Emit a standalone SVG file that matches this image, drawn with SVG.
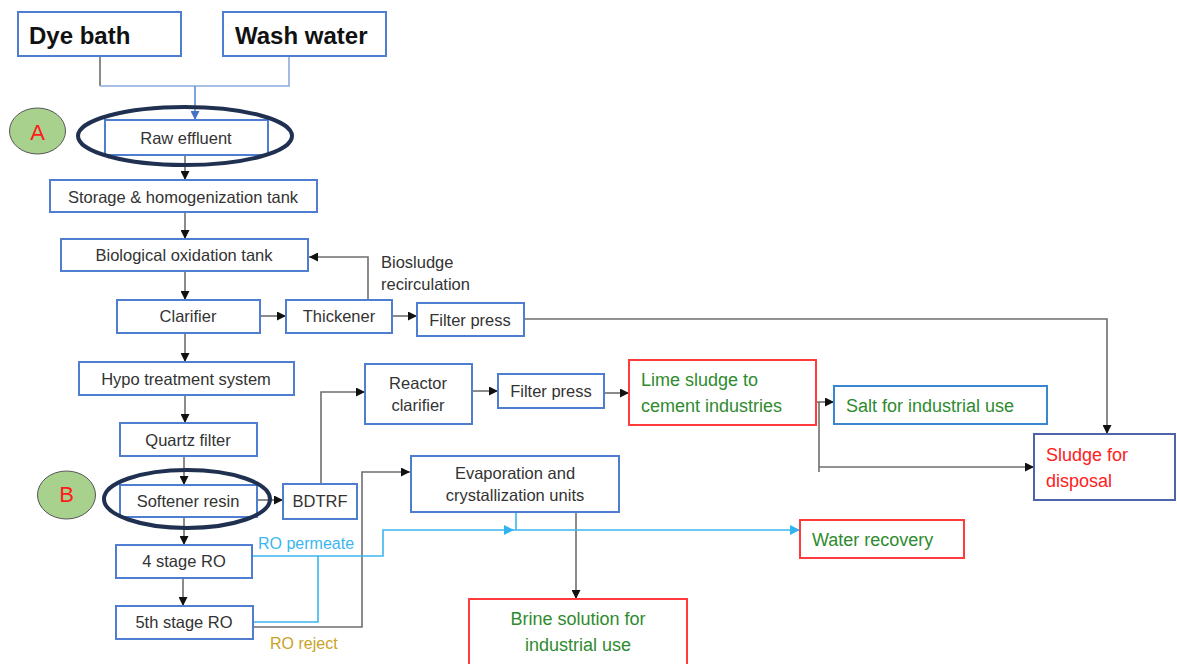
<svg xmlns="http://www.w3.org/2000/svg" width="1177" height="664" viewBox="0 0 1177 664">
<style>
.box{fill:#fff;stroke:#4f7ed0;stroke-width:2}
.rbox{fill:#fff;stroke:#ff3b3b;stroke-width:2}
.t{font-family:"Liberation Sans",Arial,sans-serif;font-size:16.5px;fill:#333;text-anchor:middle;dominant-baseline:central}
.g{font-family:"Liberation Sans",Arial,sans-serif;font-size:18px;fill:#2e8b2e;dominant-baseline:central}
.r{font-family:"Liberation Sans",Arial,sans-serif;font-size:18px;fill:#ff2020;dominant-baseline:central}
.big{font-family:"Liberation Sans",Arial,sans-serif;font-size:24px;font-weight:bold;fill:#111;dominant-baseline:central}
.c{fill:none;stroke:#6e6e6e;stroke-width:1.6}
.cb{fill:none;stroke:#3cb6ef;stroke-width:1.6}
.ell{fill:none;stroke:#1f3050;stroke-width:4}
.lbl{fill:#a9d18e;stroke:#555;stroke-width:1}
.lt{font-family:"Liberation Sans",Arial,sans-serif;font-size:22px;fill:#ff1a1a;text-anchor:middle;dominant-baseline:central}
</style>
<defs>
<marker id="ak" markerUnits="userSpaceOnUse" markerWidth="9" markerHeight="9" refX="9" refY="4.5" orient="auto"><path d="M0,0 L9,4.5 L0,9 z" fill="#111"/></marker>
<marker id="ab" markerUnits="userSpaceOnUse" markerWidth="9" markerHeight="9" refX="9" refY="4.5" orient="auto"><path d="M0,0 L9,4.5 L0,9 z" fill="#4472c4"/></marker>
<marker id="al" markerUnits="userSpaceOnUse" markerWidth="10" markerHeight="10" refX="10" refY="5" orient="auto"><path d="M0,0 L10,5 L0,10 z" fill="#2fb4f0"/></marker>
</defs>

<g id="connectors">
<path class="c" d="M100,56 V86"/>
<path fill="none" stroke="#8faadc" stroke-width="1.6" d="M100,86 H289 V56"/>
<path fill="none" stroke="#5b8fd6" stroke-width="1.6" d="M195,86 V120" marker-end="url(#ab)"/>
<path class="c" d="M185,155 V180" marker-end="url(#ak)"/>
<path class="c" d="M185,212 V239" marker-end="url(#ak)"/>
<path class="c" d="M185,271 V300" marker-end="url(#ak)"/>
<path class="c" d="M185,333 V362" marker-end="url(#ak)"/>
<path class="c" d="M185,395 V423" marker-end="url(#ak)"/>
<path class="c" d="M184,456 V485" marker-end="url(#ak)"/>
<path class="c" d="M184,517 V545" marker-end="url(#ak)"/>
<path class="c" d="M183,578 V606" marker-end="url(#ak)"/>
<path class="c" d="M260,316 H286" marker-end="url(#ak)"/>
<path class="c" d="M392,316 H417" marker-end="url(#ak)"/>
<path class="c" d="M368,300 V257 H309" marker-end="url(#ak)"/>
<path class="c" d="M524,319 H1107 V434" marker-end="url(#ak)"/>
<path class="c" d="M257,500 H283" marker-end="url(#ak)"/>
<path class="c" d="M321,484 V392 H365" marker-end="url(#ak)"/>
<path class="c" d="M472,391 H498" marker-end="url(#ak)"/>
<path class="c" d="M604,393 H629" marker-end="url(#ak)"/>
<path class="c" d="M816,402 H834" marker-end="url(#ak)"/>
<path class="c" d="M819,402 V472"/>
<path class="c" d="M819,467 H1034" marker-end="url(#ak)"/>
<path class="c" d="M576,512 V599" marker-end="url(#ak)"/>
<path class="c" d="M253,627 H362 V472 H410" marker-end="url(#ak)"/>
<path class="cb" d="M252,556 H383 V530 H514" marker-end="url(#al)"/>
<path class="cb" d="M514,530 H800" marker-end="url(#al)"/>
<path class="cb" d="M516,512 V530"/>
<path class="cb" d="M253,622 H318 V556"/>
<text x="258" y="543" font-family="'Liberation Sans',Arial,sans-serif" font-size="16px" fill="#3cb6ef" dominant-baseline="central">RO permeate</text>
<text x="270" y="643" font-family="'Liberation Sans',Arial,sans-serif" font-size="16px" fill="#c9a227" dominant-baseline="central">RO reject</text>
<text x="381" y="262" font-family="'Liberation Sans',Arial,sans-serif" font-size="16.5px" fill="#333" dominant-baseline="central">Biosludge</text>
<text x="381" y="284" font-family="'Liberation Sans',Arial,sans-serif" font-size="16.5px" fill="#333" dominant-baseline="central">recirculation</text>
</g>

<g id="dye-bath"><rect class="box" x="18" y="12" width="163" height="44"/><text class="big" x="29" y="35">Dye bath</text></g>
<g id="wash-water"><rect class="box" x="223" y="12" width="163" height="44"/><text class="big" x="235" y="35">Wash water</text></g>
<g id="raw-effluent"><rect class="box" x="105" y="120" width="163" height="35"/><text class="t" x="186" y="138">Raw effluent</text><ellipse class="ell" cx="185" cy="136" rx="107" ry="29"/></g>
<g id="label-a"><ellipse class="lbl" cx="37.5" cy="131" rx="28" ry="23"/><text class="lt" x="37.5" y="132">A</text></g>
<g id="storage"><rect class="box" x="50" y="180" width="267" height="32"/><text class="t" x="183" y="197">Storage &amp; homogenization tank</text></g>
<g id="bio-oxidation"><rect class="box" x="61" y="239" width="247" height="32"/><text class="t" x="184" y="255">Biological oxidation tank</text></g>
<g id="clarifier"><rect class="box" x="117" y="300" width="143" height="33"/><text class="t" x="188" y="316">Clarifier</text></g>
<g id="thickener"><rect class="box" x="286" y="300" width="106" height="33"/><text class="t" x="339" y="316">Thickener</text></g>
<g id="filter-press-1"><rect class="box" x="417" y="303" width="107" height="33"/><text class="t" x="470" y="320">Filter press</text></g>
<g id="hypo"><rect class="box" x="79" y="362" width="215" height="33"/><text class="t" x="186" y="379">Hypo treatment system</text></g>
<g id="quartz"><rect class="box" x="120" y="423" width="137" height="33"/><text class="t" x="188" y="440">Quartz filter</text></g>
<g id="softener"><rect class="box" x="120" y="485" width="137" height="32"/><text class="t" x="188" y="501">Softener resin</text><ellipse class="ell" cx="187" cy="499" rx="83" ry="29"/></g>
<g id="label-b"><ellipse class="lbl" cx="66.5" cy="495" rx="29" ry="24"/><text class="lt" x="66.5" y="494">B</text></g>
<g id="ro4"><rect class="box" x="116" y="545" width="136" height="33"/><text class="t" x="184" y="561">4 stage RO</text></g>
<g id="ro5"><rect class="box" x="116" y="606" width="137" height="33"/><text class="t" x="184" y="622">5th stage RO</text></g>
<g id="bdtrf"><rect class="box" x="283" y="484" width="74" height="35"/><text class="t" x="320" y="501">BDTRF</text></g>
<g id="reactor"><rect class="box" x="365" y="364" width="107" height="60"/><text class="t" x="418" y="383">Reactor</text><text class="t" x="418" y="405">clarifier</text></g>
<g id="filter-press-2"><rect class="box" x="498" y="374" width="106" height="34"/><text class="t" x="551" y="391">Filter press</text></g>
<g id="lime-sludge"><rect class="rbox" x="629" y="360" width="187" height="65"/><text class="g" x="641" y="380">Lime sludge to</text><text class="g" x="641" y="406">cement industries</text></g>
<g id="salt"><rect fill="#fff" stroke="#3a86d0" stroke-width="2" x="834" y="386" width="213" height="38"/><text class="g" x="846" y="406" font-size="17.5px">Salt for industrial use</text></g>
<g id="sludge-disposal"><rect fill="#fff" stroke="#4d64a8" stroke-width="2" x="1034" y="434" width="141" height="66"/><text class="r" x="1046" y="455">Sludge for</text><text class="r" x="1046" y="481">disposal</text></g>
<g id="evaporation"><rect class="box" x="411" y="456" width="208" height="56"/><text class="t" x="515" y="473">Evaporation and</text><text class="t" x="515" y="495">crystallization units</text></g>
<g id="water-recovery"><rect class="rbox" x="800" y="520" width="164" height="38"/><text class="g" x="812" y="540">Water recovery</text></g>
<g id="brine"><rect class="rbox" x="469" y="599" width="218" height="70"/><text class="g" x="578" y="619" text-anchor="middle">Brine solution for</text><text class="g" x="578" y="645" text-anchor="middle">industrial use</text></g>
</svg>
